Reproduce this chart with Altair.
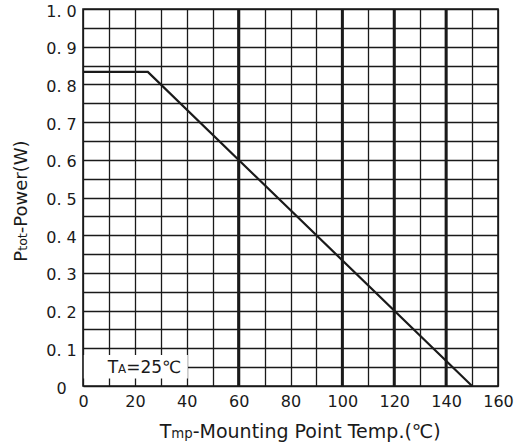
import altair as alt
import pandas as pd

# ---- data ----
temp = [0, 25, 150]                 # mounting point temperature (°C)
power = [0.833, 0.833, 0.0]         # Ptot (W)
x_grid = [0, 10, 20, 30, 40, 50, 60, 70, 80, 90, 100, 110, 120, 130, 140, 150, 160]
y_grid = [0, 0.05, 0.1, 0.15, 0.2, 0.25, 0.3, 0.35, 0.4, 0.45, 0.5,
          0.55, 0.6, 0.65, 0.7, 0.75, 0.8, 0.85, 0.9, 0.95, 1.0]
thick_x = [60, 100, 120, 140]
box_x = [0, 40.4]
box_y = [0.02, 0.082]

FONT = "DejaVu Sans"
INK = "#1a1a1a"
W, H = 415, 377

xs = alt.Scale(domain=[0, 160], nice=False, zero=False)
ys = alt.Scale(domain=[0, 1], nice=False, zero=False)

curve_df = pd.DataFrame({"temp": temp, "power": power})

x_axis = alt.Axis(values=x_grid, grid=True, gridColor=INK, gridWidth=1.3, gridOpacity=1,
                  domain=False, ticks=False, tickSize=0,
                  labelExpr="datum.value % 20 == 0 ? datum.label : ''",
                  labelFont=FONT, labelFontSize=16, labelColor=INK, labelPadding=7,
                  labelFlush=False, labelOverlap=False, title=None)
y_axis = alt.Axis(values=y_grid, grid=True, gridColor=INK, gridWidth=1.3, gridOpacity=1,
                  domain=False, ticks=False, tickSize=0,
                  labelExpr="datum.value == 0 ? '0' : (round(datum.value*100) % 10 == 0 ? replace(format(datum.value, '.1f'), '.', '. ') : '')",
                  labelFont=FONT, labelFontSize=16, labelColor=INK, labelPadding=22,
                  labelAlign="center", labelBaseline="middle", labelOffset=2,
                  labelFlush=False, labelOverlap=False, title=None)

thick = alt.Chart(pd.DataFrame({"tx": thick_x})).mark_rule(color=INK, strokeWidth=3).encode(
    x=alt.X("tx:Q", scale=xs, axis=x_axis)
)

box = alt.Chart(pd.DataFrame({"x": [box_x[0]], "x2": [box_x[1]], "y": [box_y[0]], "y2": [box_y[1]]})).mark_rect(
    fill="white").encode(
    x=alt.X("x:Q", scale=xs, axis=x_axis), x2="x2:Q",
    y=alt.Y("y:Q", scale=ys, axis=y_axis), y2="y2:Q"
)

curve = alt.Chart(curve_df).mark_line(color=INK, strokeWidth=2.2).encode(
    x=alt.X("temp:Q", scale=xs, axis=x_axis),
    y=alt.Y("power:Q", scale=ys, axis=y_axis),
)

border = alt.Chart(pd.DataFrame({"x": [0], "x2": [160], "y": [0], "y2": [1]})).mark_rect(
    filled=False, stroke=INK, strokeWidth=1.6).encode(
    x=alt.X("x:Q", scale=xs, axis=x_axis), x2="x2:Q",
    y=alt.Y("y:Q", scale=ys, axis=y_axis), y2="y2:Q"
)


def txt(s, x, y, size, angle=0):
    return alt.Chart(pd.DataFrame({"t": [s]})).mark_text(
        font=FONT, fontSize=size, color=INK, align="left", baseline="alphabetic", angle=angle
    ).encode(x=alt.value(x), y=alt.value(y), text="t:N")


# x-axis title: T_mp-Mounting Point Temp.(℃)
xt1 = txt("T", 76.7, 428.7, 19)
xt2 = txt("mp", 88.3, 428.7, 13.3)
xt3 = txt("-Mounting Point Temp.(℃)", 109.7, 428.7, 19)

# y-axis title: P_tot-Power(W)
yt1 = txt("P", -56, 252.7, 18, 270)
yt2 = txt("tot", -56, 241.8, 12.6, 270)
yt3 = txt("-Power(W)", -56, 224.2, 18, 270)

# annotation: T_A=25℃
at1 = txt("T", 24.7, 364, 17)
at2 = txt("A", 35.1, 364, 11.9)
at3 = txt("=25℃", 43.2, 364, 17)

chart = alt.layer(thick, box, curve, border, xt1, xt2, xt3, yt1, yt2, yt3, at1, at2, at3).properties(
    width=W, height=H,
    autosize=alt.AutoSizeParams(type="none"),
    padding={"left": 83, "top": 9, "right": 18, "bottom": 61},
    background="white",
).configure_view(stroke=None)

chart.save("out.html", embed_options={"renderer": "svg", "actions": False})
